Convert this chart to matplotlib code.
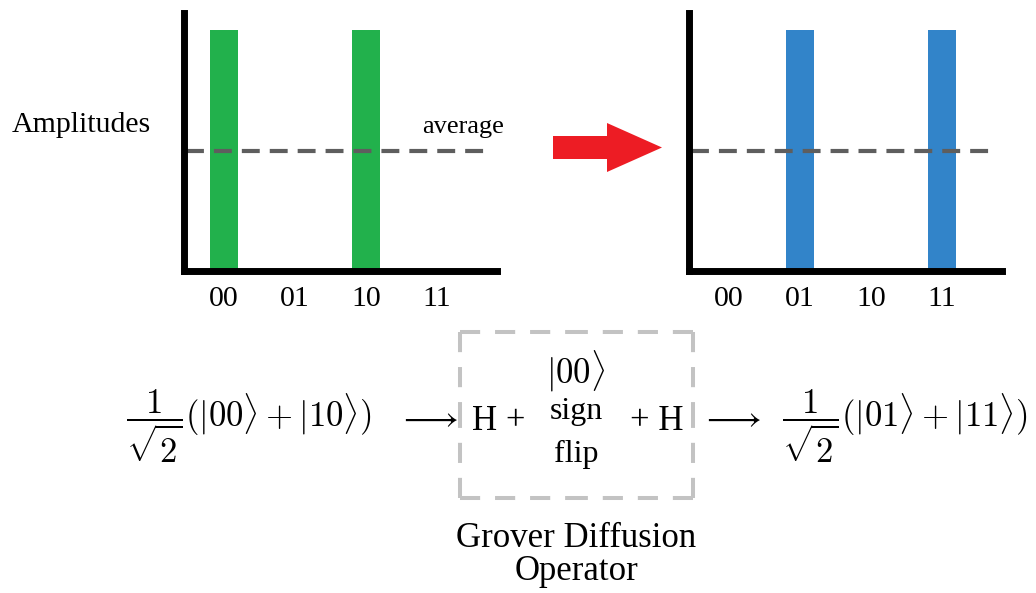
import numpy as np
import matplotlib
matplotlib.use('Agg')
import matplotlib.pyplot as plt
from matplotlib.patches import Polygon
from matplotlib import font_manager as fm

# ---------------- data ----------------
states = ['00', '01', '10', '11']
amp_before = [0.707, 0.0, 0.707, 0.0]   # 1/sqrt(2) on |00>, |10>
amp_after = [0.0, 0.707, 0.0, 0.707]    # 1/sqrt(2) on |01>, |11>
color_before = '#22b14c'
color_after = '#3284c9'

eq_before = r'$\dfrac{1}{\sqrt{2}}(|00\rangle + |10\rangle)$'
eq_after = r'$\dfrac{1}{\sqrt{2}}(|01\rangle + |11\rangle)$'

# ---------------- figure ----------------
W, H = 1036, 593
plt.rcParams['mathtext.fontset'] = 'cm'
SERIF_PATH = fm.findfont(fm.FontProperties(family='Liberation Serif'))


def sfont(size):
    return fm.FontProperties(fname=SERIF_PATH, size=size)


fig = plt.figure(figsize=(W / 100, H / 100), dpi=100)


def px_axes(x0, y0, x1, y1):
    return fig.add_axes([x0 / W, (H - y1) / H, (x1 - x0) / W, (y1 - y0) / H])


CAT = 71.0  # pixels per category


def bar_panel(x0, vals, color):
    ax = px_axes(x0, 13, x0 + 313, 271)
    x = np.arange(len(states))
    ax.bar(x, vals, width=0.4, color=color, linewidth=0, zorder=2)
    avg = np.mean(vals)
    ax.plot([-0.54, 3.74], [avg, avg], color='#5e5e5e', lw=3,
            ls=(0, (4.3, 2.4)), zorder=3)
    ax.set_xlim(-40 / CAT, 273 / CAT)
    ax.set_ylim(0, 0.707 * 258 / 241)
    for s in ['top', 'right']:
        ax.spines[s].set_visible(False)
    for s in ['left', 'bottom']:
        ax.spines[s].set_linewidth(5)
        ax.spines[s].set_color('black')
        ax.spines[s].set_capstyle('projecting')
        ax.spines[s].set_zorder(4)
    ax.set_yticks([])
    ax.set_xticks(x, states)
    ax.tick_params(axis='x', length=0, pad=11)
    for lab in ax.get_xticklabels():
        lab.set_fontproperties(sfont(21.5))
    ax.patch.set_visible(False)
    return ax


bar_panel(184, amp_before, color_before)
bar_panel(689, amp_after, color_after)

# overlay in pixel coordinates
ov = fig.add_axes([0, 0, 1, 1])
ov.set_xlim(0, W)
ov.set_ylim(H, 0)
ov.axis('off')
ov.patch.set_visible(False)

ov.text(12, 132, 'Amplitudes', fontproperties=sfont(21.5), ha='left', va='baseline')
ov.text(422, 133, 'average', fontproperties=sfont(19), ha='left', va='baseline')

# red arrow
ov.add_patch(Polygon([(553, 136), (607, 136), (607, 123), (662, 147.5),
                      (607, 172), (607, 159), (553, 159)],
                     closed=True, facecolor='#ed1c24', edgecolor='none'))

# equations
ov.text(126, 427, eq_before, fontsize=25, ha='left', va='baseline')
ov.text(397, 427, r'$\longrightarrow$', fontsize=25, ha='left', va='baseline')
ov.text(700, 427, r'$\longrightarrow$', fontsize=25, ha='left', va='baseline')
ov.text(782, 427, eq_after, fontsize=25, ha='left', va='baseline')

ov.text(472, 430, 'H +', fontproperties=sfont(25), ha='left', va='baseline')
ov.text(684, 430, '+ H', fontproperties=sfont(25), ha='right', va='baseline')
ov.text(576, 383, r'$|00\rangle$', fontsize=25, ha='center', va='baseline')
ov.text(576, 419, 'sign', fontproperties=sfont(23), ha='center', va='baseline')
ov.text(576, 462, 'flip', fontproperties=sfont(23), ha='center', va='baseline')

ov.text(576, 547, 'Grover Diffusion', fontproperties=sfont(25), ha='center', va='baseline')
ov.text(576, 580, 'Operator', fontproperties=sfont(25), ha='center', va='baseline')

# dashed box (each side drawn from both corners toward the middle)
bx0, by0, bx1, by1 = 460, 332, 693, 498
corners = [(bx0, by0), (bx1, by0), (bx1, by1), (bx0, by1)]
for i in range(4):
    a = np.array(corners[i])
    b = np.array(corners[(i + 1) % 4])
    m = (a + b) / 2
    for p, q in [(a, m), (b, m)]:
        ov.plot([p[0], q[0]], [p[1], q[1]], color='#c3c3c3', lw=2.9,
                ls=(0, (5, 3.7)))

fig.savefig('out.png', dpi=100)
